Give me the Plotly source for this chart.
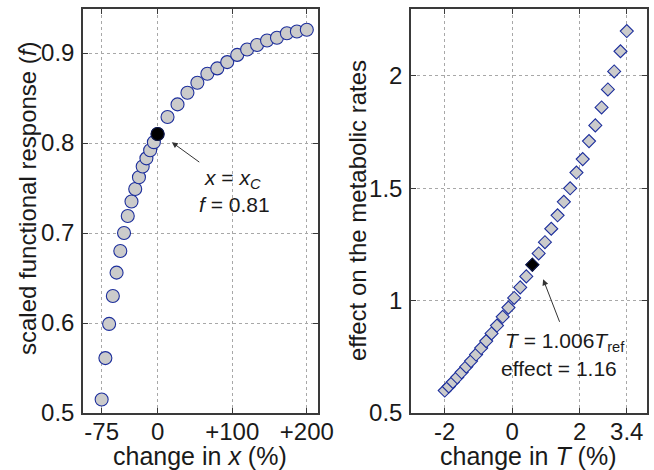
import plotly.graph_objects as go

# Left panel: scaled functional response vs. change in resource density x (%)
x_change = [-75, -70, -65, -60, -55, -50, -45, -40, -35, -30, -25, -20, -15, -10, -5, 0,
            13.3, 26.7, 40, 53.3, 66.7, 80, 93.3, 106.7, 120, 133.3, 146.7, 160, 173.3, 186.7, 200]
f_resp = [0.515, 0.561, 0.599, 0.630, 0.656, 0.680, 0.700, 0.719, 0.735, 0.749, 0.762, 0.774,
          0.783, 0.792, 0.801, 0.810, 0.829, 0.843, 0.856, 0.867, 0.877, 0.883, 0.890, 0.898,
          0.904, 0.909, 0.914, 0.917, 0.922, 0.924, 0.926]
xc_change = 0
xc_f = 0.81

# Right panel: effect on metabolic rates vs. change in temperature T (%)
t_change = [-2.00, -1.88, -1.76, -1.63, -1.50, -1.36, -1.22, -1.07, -0.92, -0.77, -0.61, -0.45,
            -0.28, -0.11, 0.06, 0.24, 0.42, 0.60, 0.787, 0.973, 1.16, 1.347, 1.533, 1.72, 1.907,
            2.093, 2.28, 2.467, 2.653, 2.84, 3.027, 3.213, 3.40]
effect = [0.600, 0.618, 0.638, 0.659, 0.681, 0.706, 0.731, 0.760, 0.789, 0.820, 0.854, 0.889,
          0.928, 0.969, 1.012, 1.059, 1.108, 1.160, 1.21, 1.26, 1.32, 1.38, 1.44, 1.50, 1.57,
          1.63, 1.71, 1.78, 1.86, 1.94, 2.02, 2.11, 2.20]
tref_change = 0.6
tref_effect = 1.16

left_xticks = [-75, 0, 100, 200]
left_xticklabels = ["-75", "0", "+100", "+200"]
left_yticks = [0.5, 0.6, 0.7, 0.8, 0.9]
left_yticklabels = ["0.5", "0.6", "0.7", "0.8", "0.9"]
right_xticks = [-2, 0, 2, 3.4]
right_xticklabels = ["-2", "0", "2", "3.4"]
right_yticks = [0.5, 1, 1.5, 2]
right_yticklabels = ["0.5", "1", "1.5", "2"]

FONT = "Liberation Sans, Arial, sans-serif"
TXT = "#1a1a1a"
EDGE = "#1c2e9c"
FILL = "#cbcbcb"
AXCOL = "#3a3a3a"

W = 654.0
H = 470.0


def px(xp):
    return xp / W


def py(yp):
    return (H - yp) / H


fig = go.Figure()

fig.add_trace(go.Scatter(
    x=x_change, y=f_resp, mode="markers", xaxis="x", yaxis="y",
    marker=dict(symbol="circle", size=13, color=FILL, line=dict(color=EDGE, width=1.1)),
    showlegend=False, hoverinfo="skip"))
fig.add_trace(go.Scatter(
    x=[xc_change], y=[xc_f], mode="markers", xaxis="x", yaxis="y",
    marker=dict(symbol="circle", size=13, color="black", line=dict(color="#101840", width=1.1)),
    showlegend=False, hoverinfo="skip"))

fig.add_trace(go.Scatter(
    x=t_change, y=effect, mode="markers", xaxis="x2", yaxis="y2",
    marker=dict(symbol="diamond", size=10, color=FILL, line=dict(color=EDGE, width=1.1)),
    showlegend=False, hoverinfo="skip"))
fig.add_trace(go.Scatter(
    x=[tref_change], y=[tref_effect], mode="markers", xaxis="x2", yaxis="y2",
    marker=dict(symbol="diamond", size=10, color="black", line=dict(color="#101840", width=1.1)),
    showlegend=False, hoverinfo="skip"))

axis_common = dict(
    showline=True, mirror="ticks", linecolor=AXCOL, linewidth=1.5,
    ticks="inside", ticklen=5, tickwidth=1, tickcolor=AXCOL,
    showgrid=True, gridcolor="#a8a8a8", griddash="dot", gridwidth=1,
    zeroline=False, automargin=False,
    tickfont=dict(family=FONT, size=24, color=TXT),
)

ydom = [py(413), py(9)]

fig.update_layout(
    width=654, height=470, autosize=False,
    margin=dict(l=0, r=0, t=0, b=0, autoexpand=False),
    paper_bgcolor="white", plot_bgcolor="white",
    font=dict(family=FONT, size=21, color=TXT),
    xaxis=dict(domain=[px(83), px(318)], range=[-100, 215], anchor="y",
               tickmode="array", tickvals=left_xticks, ticktext=left_xticklabels,
               ticklabelstandoff=-4, **axis_common),
    yaxis=dict(domain=ydom, range=[0.5, 0.949], anchor="x",
               tickmode="array", tickvals=left_yticks, ticktext=left_yticklabels,
               ticklabelstandoff=2, **axis_common),
    xaxis2=dict(domain=[px(411), px(647)], range=[-3, 4], anchor="y2",
                tickmode="array", tickvals=right_xticks, ticktext=right_xticklabels,
                ticklabelstandoff=-4, **axis_common),
    yaxis2=dict(domain=ydom, range=[0.5, 2.298], anchor="x2",
                tickmode="array", tickvals=right_yticks, ticktext=right_yticklabels,
                ticklabelstandoff=2, **axis_common),
)

# Axis titles
title_font = dict(family=FONT, size=24, color=TXT)
xtitle_font = dict(family=FONT, size=25, color=TXT)
centered = dict(xref="paper", yref="paper", showarrow=False,
                xanchor="center", yanchor="middle")
fig.add_annotation(x=px(200), y=py(456), text="change in <i>x</i> (%)",
                   font=xtitle_font, **centered)
fig.add_annotation(x=px(528), y=py(456), text="change in <i>T</i> (%)",
                   font=xtitle_font, **centered)
fig.add_annotation(x=px(27), y=py(198), textangle=-90,
                   text="scaled functional response (<i>f</i>)", font=title_font, **centered)
fig.add_annotation(x=px(357), y=py(210), textangle=-90,
                   text="effect on the metabolic rates", font=title_font, **centered)

# Arrows pointing at the reference points
fig.add_annotation(x=19, y=0.801, xref="x", yref="y", ax=29, ay=21, text="",
                   showarrow=True, arrowhead=2, arrowsize=1.2, arrowwidth=1, arrowcolor="#333")
fig.add_annotation(x=0.92, y=1.095, xref="x2", yref="y2", ax=17, ay=44, text="",
                   showarrow=True, arrowhead=2, arrowsize=1.2, arrowwidth=1, arrowcolor="#333")

# Labels for the reference points
ann_font = dict(family=FONT, size=21, color=TXT)
fig.add_annotation(x=100.8, y=0.760, xref="x", yref="y", showarrow=False,
                   text="<i>x</i> = <i>x</i><sub><i>C</i></sub>", font=ann_font)
fig.add_annotation(x=103.5, y=0.732, xref="x", yref="y", showarrow=False,
                   text="<i>f</i> = 0.81", font=ann_font)
fig.add_annotation(x=1.58, y=0.818, xref="x2", yref="y2", showarrow=False,
                   text="<i>T</i> = 1.006<i>T</i><sub>ref</sub>", font=ann_font)
fig.add_annotation(x=1.40, y=0.70, xref="x2", yref="y2", showarrow=False,
                   text="effect = 1.16", font=ann_font)

fig.write_html("out.html")
